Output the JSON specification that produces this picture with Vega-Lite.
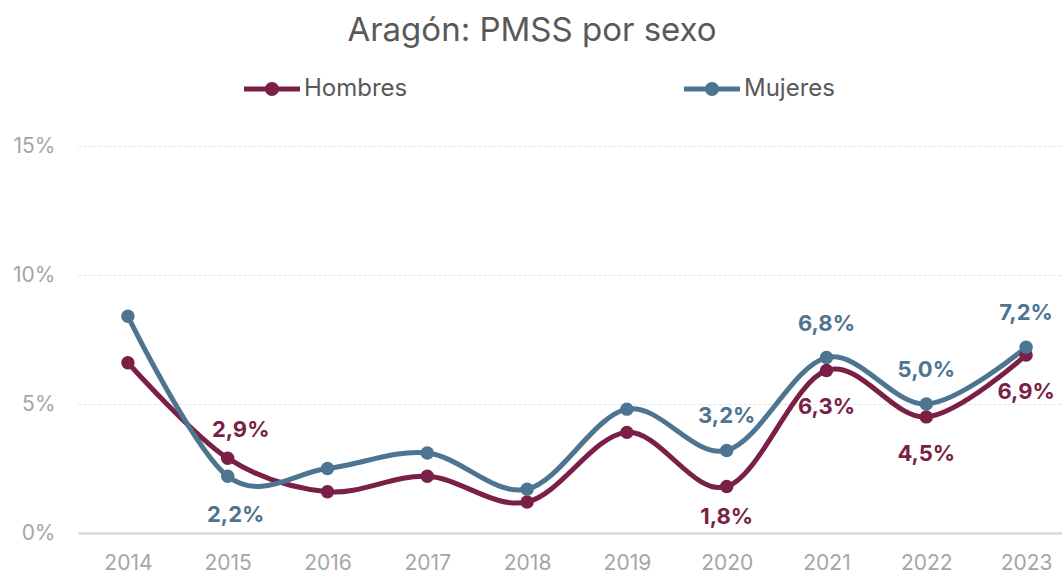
{
  "$schema": "https://vega.github.io/schema/vega-lite/v6.json",
  "width": 998,
  "height": 387,
  "autosize": {"type": "none"},
  "padding": {"left": 78, "top": 146, "right": 0, "bottom": 40},
  "background": "white",
  "config": {
    "view": {"stroke": null},
    "font": "Inter",
    "locale": {"number": {"decimal": ",", "thousands": ".", "grouping": [3], "currency": ["", " €"]}}
  },
  "title": {
    "text": "Aragón: PMSS por sexo",
    "font": "Inter",
    "fontSize": 33,
    "fontWeight": "normal",
    "color": "#595959",
    "anchor": "middle",
    "frame": "group",
    "dx": -45,
    "offset": 13
  },
  "data": {
    "values": [
      {"year": "2014", "sexo": "Hombres", "valor": 0.066},
      {"year": "2015", "sexo": "Hombres", "valor": 0.029},
      {"year": "2016", "sexo": "Hombres", "valor": 0.016},
      {"year": "2017", "sexo": "Hombres", "valor": 0.022},
      {"year": "2018", "sexo": "Hombres", "valor": 0.012},
      {"year": "2019", "sexo": "Hombres", "valor": 0.039},
      {"year": "2020", "sexo": "Hombres", "valor": 0.018},
      {"year": "2021", "sexo": "Hombres", "valor": 0.063},
      {"year": "2022", "sexo": "Hombres", "valor": 0.045},
      {"year": "2023", "sexo": "Hombres", "valor": 0.069},
      {"year": "2014", "sexo": "Mujeres", "valor": 0.084},
      {"year": "2015", "sexo": "Mujeres", "valor": 0.022},
      {"year": "2016", "sexo": "Mujeres", "valor": 0.025},
      {"year": "2017", "sexo": "Mujeres", "valor": 0.031},
      {"year": "2018", "sexo": "Mujeres", "valor": 0.017},
      {"year": "2019", "sexo": "Mujeres", "valor": 0.048},
      {"year": "2020", "sexo": "Mujeres", "valor": 0.032},
      {"year": "2021", "sexo": "Mujeres", "valor": 0.068},
      {"year": "2022", "sexo": "Mujeres", "valor": 0.050},
      {"year": "2023", "sexo": "Mujeres", "valor": 0.072}
    ]
  },
  "encoding": {
    "x": {
      "field": "year",
      "type": "ordinal",
      "scale": {"type": "point", "padding": 0.5},
      "axis": {
        "title": null,
        "labelAngle": 0,
        "ticks": false,
        "tickSize": 0,
        "grid": false,
        "domainColor": "#d9d9d9",
        "domainWidth": 2.5,
        "labelColor": "#a6a6a6",
        "labelFontSize": 21,
        "labelFont": "Inter",
        "labelPadding": 19
      }
    },
    "y": {
      "field": "valor",
      "type": "quantitative",
      "scale": {"domain": [0, 0.15]},
      "axis": {
        "title": null,
        "values": [0, 0.05, 0.1, 0.15],
        "format": ".0%",
        "domain": false,
        "ticks": false,
        "tickSize": 0,
        "labelColor": "#a6a6a6",
        "labelFontSize": 21,
        "labelFont": "Inter",
        "labelPadding": 23,
        "gridColor": "#e3e3e3",
        "gridDash": [3, 2],
        "gridWidth": 1
      }
    },
    "color": {
      "field": "sexo",
      "type": "nominal",
      "scale": {"domain": ["Hombres", "Mujeres"], "range": ["#7A1F45", "#4D7490"]},
      "legend": {
        "title": null,
        "orient": "none",
        "direction": "horizontal",
        "legendX": 166,
        "legendY": -85,
        "symbolType": "M-1,-0.09L1,-0.09L1,0.09L-1,0.09Z M0.25,0A0.25,0.25 0 1,1 -0.25,0A0.25,0.25 0 1,1 0.25,0Z",
        "symbolSize": 3136,
        "symbolStrokeWidth": 0,
        "labelFontSize": 24,
        "labelFont": "Inter",
        "labelColor": "#595959",
        "labelOffset": 4,
        "columnPadding": 276,
        "encode": {
          "symbols": {"update": {"fill": {"scale": "color", "field": "value"}, "opacity": {"value": 1}, "strokeWidth": {"value": 0}}}
        }
      }
    }
  },
  "layer": [
    {"mark": {"type": "line", "interpolate": "cardinal", "strokeWidth": 5}},
    {"mark": {"type": "point", "filled": true, "size": 180, "opacity": 1}},
    {
      "transform": [{"filter": {"and": [{"field": "sexo", "equal": "Mujeres"}, {"field": "year", "oneOf": ["2020", "2021", "2022", "2023"]}]}}],
      "mark": {"type": "text", "fontWeight": "bold", "fontSize": 22, "font": "Inter", "dy": -34},
      "encoding": {"text": {"field": "valor", "type": "quantitative", "format": ".1%"}}
    },
    {
      "transform": [{"filter": {"and": [{"field": "sexo", "equal": "Mujeres"}, {"field": "year", "equal": "2015"}]}}],
      "mark": {"type": "text", "fontWeight": "bold", "fontSize": 22, "font": "Inter", "dy": 39, "dx": 8},
      "encoding": {"text": {"field": "valor", "type": "quantitative", "format": ".1%"}}
    },
    {
      "transform": [{"filter": {"and": [{"field": "sexo", "equal": "Hombres"}, {"field": "year", "equal": "2015"}]}}],
      "mark": {"type": "text", "fontWeight": "bold", "fontSize": 22, "font": "Inter", "dy": -28, "dx": 13},
      "encoding": {"text": {"field": "valor", "type": "quantitative", "format": ".1%"}}
    },
    {
      "transform": [{"filter": {"and": [{"field": "sexo", "equal": "Hombres"}, {"field": "year", "equal": "2020"}]}}],
      "mark": {"type": "text", "fontWeight": "bold", "fontSize": 22, "font": "Inter", "dy": 30},
      "encoding": {"text": {"field": "valor", "type": "quantitative", "format": ".1%"}}
    },
    {
      "transform": [{"filter": {"and": [{"field": "sexo", "equal": "Hombres"}, {"field": "year", "oneOf": ["2021", "2022", "2023"]}]}}],
      "mark": {"type": "text", "fontWeight": "bold", "fontSize": 22, "font": "Inter", "dy": 37},
      "encoding": {"text": {"field": "valor", "type": "quantitative", "format": ".1%"}}
    }
  ]
}
